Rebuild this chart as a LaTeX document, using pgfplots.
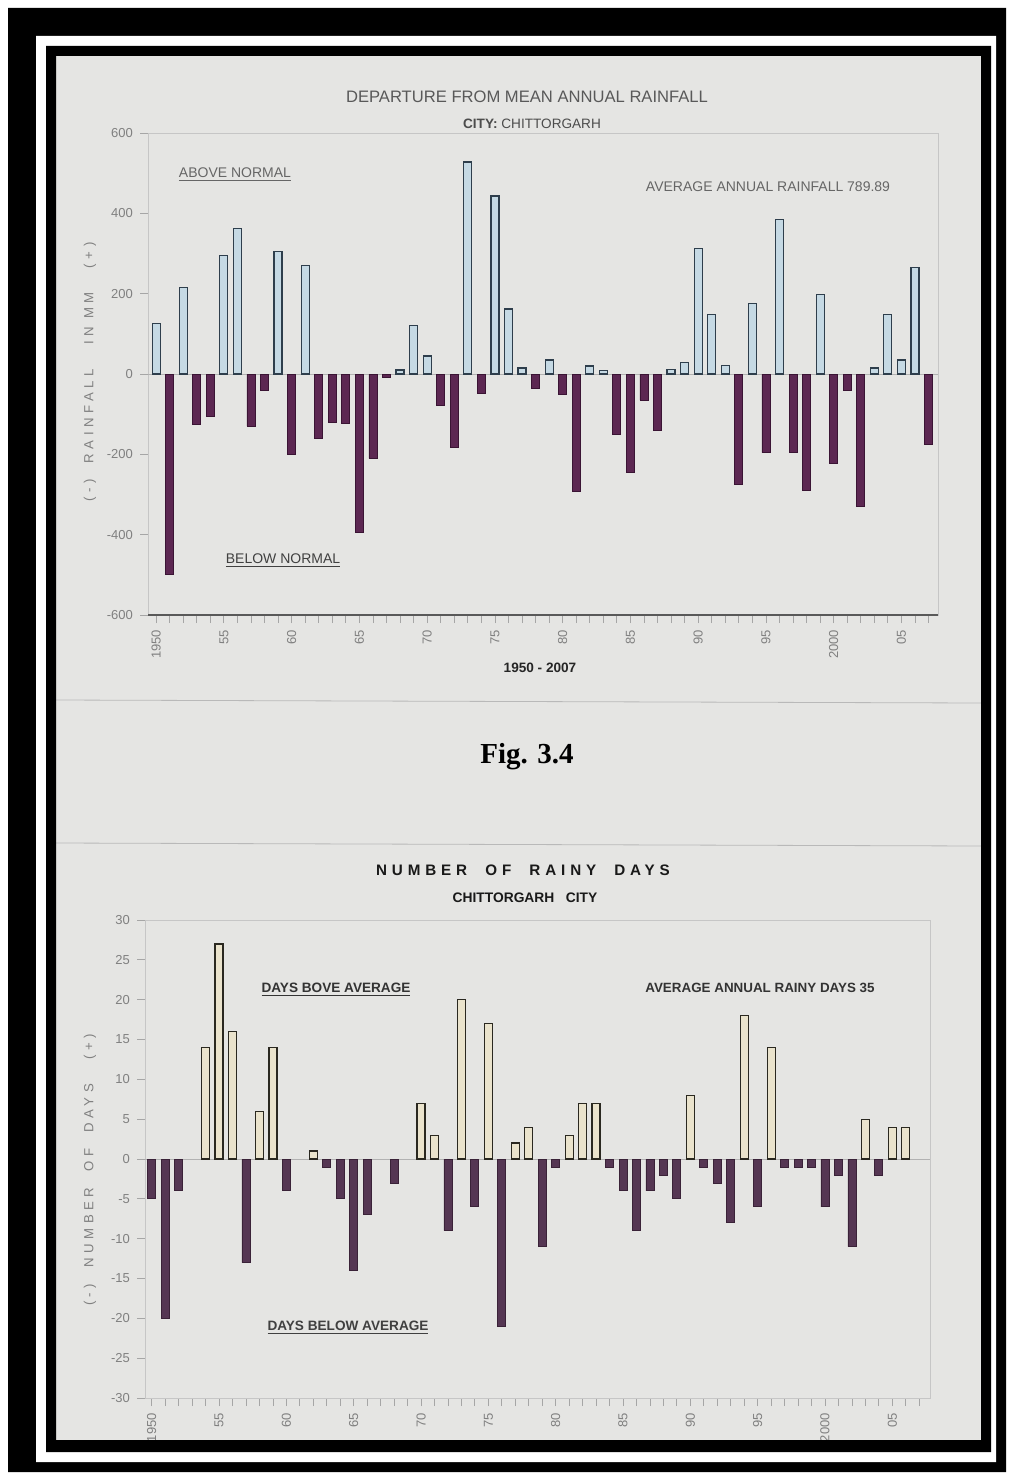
\documentclass[border=0pt]{standalone}
\usepackage{pgfplots}
\pgfplotsset{compat=1.18}
\usepackage{fontspec}
\setmainfont{Liberation Sans}
\newfontfamily\serif{Liberation Serif}
\newfontfamily\spaced[LetterSpace=32]{Liberation Sans}
\newfontfamily\spacedlight[LetterSpace=34]{Liberation Sans}

\definecolor{page}{HTML}{E5E5E3}
\definecolor{posA}{HTML}{C5D9E4}
\definecolor{posAedge}{HTML}{2E3E4C}
\definecolor{negA}{HTML}{5C2752}
\definecolor{negAedge}{HTML}{3A1434}
\definecolor{posB}{HTML}{EAE3CC}
\definecolor{posBedge}{HTML}{2A2820}
\definecolor{negB}{HTML}{553653}
\definecolor{negBedge}{HTML}{3A2238}

\pgfplotsset{
  yearbars/.style={
    scale only axis, ybar,
    bar width=4pt,
    xtick={1950,1955,...,2005},
    xticklabels={1950,55,60,65,70,75,80,85,90,95,2000,05},
    minor xtick={1950,1951,...,2007},
    xtick pos=left, ytick pos=left,
    tick align=outside,
    major tick length=4pt, minor tick length=4pt,
    tick style={gray!70, thin},
    axis line style={gray!45},
    xticklabel style={rotate=90, anchor=east, font=\fontsize{6.5}{7}\selectfont, text=gray},
    yticklabel style={font=\fontsize{6.5}{7}\selectfont, text=gray},
    /pgf/number format/assume math mode=true,
    /pgf/number format/1000 sep={},
  }
}

\begin{document}
\begin{tikzpicture}[x=0.5pt, y=0.5pt]
\useasboundingbox (0,0) rectangle (1016,-1477);
\fill[white] (0,0) rectangle (1016,-1477);
\fill[page] (56,-56) rectangle (981,-1440);
% fold lines of the photographed page
\draw[gray!55, thin] (56,-700) -- (981,-703);
\draw[gray!55, thin] (56,-843) -- (981,-846);

% ---------- top chart: departure from mean annual rainfall ----------
\begin{axis}[yearbars,
  at={(74pt,-307.5pt)}, anchor=south west,
  width=395pt, height=241pt,
  xmin=1949.4, xmax=2007.7,
  ymin=-600, ymax=600, ytick={-600,-400,...,600},
]
\draw[gray!60] (axis cs:1949.4,0) -- (axis cs:2007.7,0);
\addplot[bar shift=0pt, fill=posA, draw=posAedge, line width=0.6pt] coordinates {
 (1950,125) (1952,215) (1955,295) (1956,362) (1959,305) (1961,270)
 (1968,10) (1969,120) (1970,45) (1973,528) (1975,443) (1976,162)
 (1977,15) (1979,35) (1982,20) (1983,8) (1988,12) (1989,28)
 (1990,312) (1991,148) (1992,22) (1994,176) (1996,385) (1999,198)
 (2003,15) (2004,148) (2005,35) (2006,265)
};
\addplot[bar shift=0pt, fill=negA, draw=negAedge, line width=0.4pt] coordinates {
 (1951,-500) (1953,-125) (1954,-105) (1957,-130) (1958,-40) (1960,-200)
 (1962,-160) (1963,-120) (1964,-122) (1965,-395) (1966,-210) (1967,-8)
 (1971,-78) (1972,-182) (1974,-48) (1978,-35) (1980,-52) (1981,-292)
 (1984,-150) (1985,-245) (1986,-65) (1987,-140) (1993,-276) (1995,-196)
 (1997,-196) (1998,-290) (2000,-222) (2001,-40) (2002,-330) (2007,-175)
};
\draw[line width=1.3pt, black!65] (rel axis cs:0,0) -- (rel axis cs:1,0);
\end{axis}

\node[text=black!65, font=\fontsize{8.3}{10}\selectfont] at (527,-97) {DEPARTURE FROM MEAN ANNUAL RAINFALL};
\node[text=black!70, font=\fontsize{6.8}{8}\selectfont] at (532,-124) {\textbf{CITY:} CHITTORGARH};
\node[text=black!60, font=\fontsize{7}{8}\selectfont] at (235,-175) {\underline{ABOVE NORMAL}};
\node[text=black!60, font=\fontsize{7}{8}\selectfont] at (768,-187) {AVERAGE ANNUAL RAINFALL 789.89};
\node[text=black!75, font=\fontsize{7}{8}\selectfont] at (283,-561) {\underline{BELOW NORMAL}};
\node[text=gray, rotate=90, font=\spacedlight\fontsize{6.6}{7}\selectfont] at (90,-372) {(-)\ \ RAINFALL\ \ \ IN MM\ \ \ (+)};
\node[text=black!85, font=\bfseries\fontsize{6.8}{8}\selectfont] at (540,-668) {1950 - 2007};

\node[font=\serif\bfseries\fontsize{14.5}{16}\selectfont] at (527,-757) {Fig. 3.4};

% ---------- bottom chart: number of rainy days ----------
\begin{axis}[yearbars,
  at={(72.5pt,-699pt)}, anchor=south west,
  width=392.5pt, height=239pt,
  xmin=1949.5, xmax=2007.8,
  ymin=-30, ymax=30, ytick={-30,-25,...,30},
]
\draw[gray!60] (axis cs:1949.5,0) -- (axis cs:2007.8,0);
\addplot[bar shift=0pt, fill=posB, draw=posBedge, line width=0.6pt] coordinates {
 (1954,14) (1955,27) (1956,16) (1958,6) (1959,14) (1962,1)
 (1970,7) (1971,3) (1973,20) (1975,17) (1977,2) (1978,4)
 (1981,3) (1982,7) (1983,7) (1990,8) (1994,18) (1996,14)
 (2003,5) (2005,4) (2006,4)
};
\addplot[bar shift=0pt, fill=negB, draw=negBedge, line width=0.4pt] coordinates {
 (1950,-5) (1951,-20) (1952,-4) (1957,-13) (1960,-4) (1963,-1)
 (1964,-5) (1965,-14) (1966,-7) (1968,-3) (1972,-9) (1974,-6)
 (1976,-21) (1979,-11) (1980,-1) (1984,-1) (1985,-4) (1986,-9)
 (1987,-4) (1988,-2) (1989,-5) (1991,-1) (1992,-3) (1993,-8)
 (1995,-6) (1997,-1) (1998,-1) (1999,-1) (2000,-6) (2001,-2)
 (2002,-11) (2004,-2)
};
\end{axis}

\node[text=black!90, font=\spaced\bfseries\fontsize{7.6}{9}\selectfont] at (523,-870) {NUMBER\ \ OF\ \ RAINY\ \ DAYS};
\node[text=black!90, font=\bfseries\fontsize{6.9}{8}\selectfont] at (525,-898) {CHITTORGARH\ \ \ CITY};
\node[text=black!80, font=\bfseries\fontsize{6.8}{8}\selectfont] at (336,-990) {\underline{DAYS BOVE AVERAGE}};
\node[text=black!80, font=\bfseries\fontsize{6.7}{8}\selectfont] at (760,-988) {AVERAGE ANNUAL RAINY DAYS 35};
\node[text=black!75, font=\bfseries\fontsize{6.8}{8}\selectfont] at (348,-1328) {\underline{DAYS BELOW AVERAGE}};
\node[text=gray, rotate=90, font=\spacedlight\fontsize{6.6}{7}\selectfont] at (90,-1170) {(-)\ \ NUMBER\ \ OF\ \ DAYS\ \ \ (+)};
\node[text=black!85, font=\bfseries\fontsize{6.8}{8}\selectfont] at (537,-1449) {1950 - 2007};

% ---------- photo frame ----------
\fill[black, even odd rule] (8,-8) rectangle (1006,-1472) (36,-36) rectangle (996,-1462);
\fill[white, even odd rule] (36,-36) rectangle (996,-1462) (46,-46) rectangle (991,-1452);
\fill[black, even odd rule] (46,-46) rectangle (991,-1452) (56,-56) rectangle (981,-1440);
\end{tikzpicture}
\end{document}
